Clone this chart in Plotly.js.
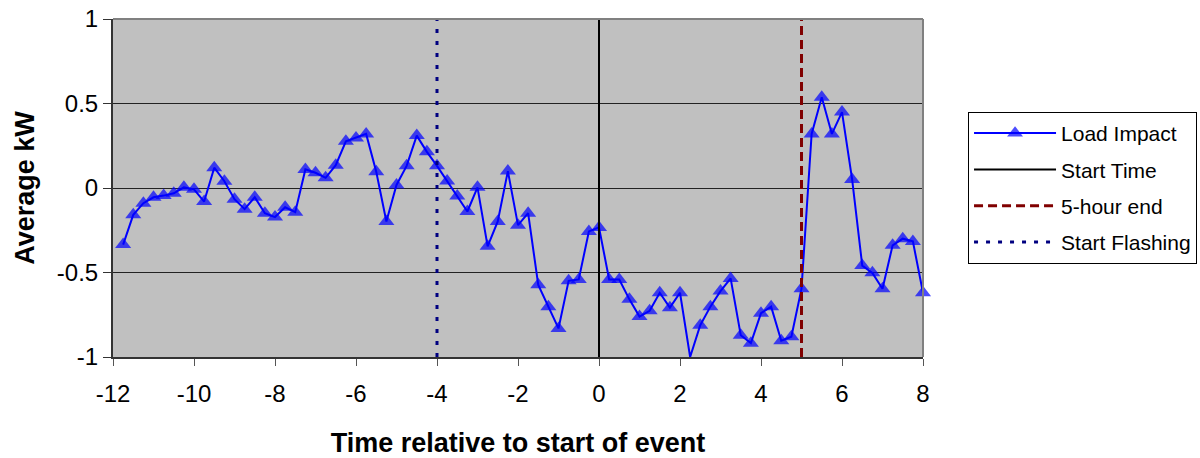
<!DOCTYPE html>
<html>
<head>
<meta charset="utf-8">
<script src="https://cdn.plot.ly/plotly-3.0.1.min.js"></script>
<style>html,body{margin:0;padding:0;background:#fff;}#chart{width:1200px;height:458px;}</style>
</head>
<body>
<div id="chart"></div>
<script>
// Time relative to start of event (hours)
const hours = [
  -11.75, -11.5, -11.25, -11, -10.75, -10.5, -10.25, -10,
  -9.75, -9.5, -9.25, -9, -8.75, -8.5, -8.25, -8,
  -7.75, -7.5, -7.25, -7, -6.75, -6.5, -6.25, -6,
  -5.75, -5.5, -5.25, -5, -4.75, -4.5, -4.25, -4,
  -3.75, -3.5, -3.25, -3, -2.75, -2.5, -2.25, -2,
  -1.75, -1.5, -1.25, -1, -0.75, -0.5, -0.25, 0,
  0.25, 0.5, 0.75, 1, 1.25, 1.5, 1.75, 2,
  2.25, 2.5, 2.75, 3, 3.25, 3.5, 3.75, 4,
  4.25, 4.5, 4.75, 5, 5.25, 5.5, 5.75, 6,
  6.25, 6.5, 6.75, 7, 7.25, 7.5, 7.75, 8
];
// Load Impact, average kW
const loadImpact = [
  -0.335, -0.159, -0.090, -0.055, -0.045, -0.031, 0.004, -0.008,
  -0.080, 0.120, 0.040, -0.066, -0.125, -0.055, -0.149, -0.172,
  -0.114, -0.143, 0.110, 0.090, 0.060, 0.135, 0.276, 0.296,
  0.320, 0.096, -0.198, 0.018, 0.131, 0.310, 0.214, 0.131,
  0.041, -0.047, -0.139, 0.004, -0.345, -0.198, 0.100, -0.220,
  -0.149, -0.573, -0.702, -0.831, -0.549, -0.541, -0.257, -0.233,
  -0.541, -0.541, -0.659, -0.761, -0.727, -0.620, -0.708, -0.620,
  -1.000, -0.812, -0.702, -0.610, -0.535, -0.871, -0.918, -0.741,
  -0.702, -0.904, -0.880, -0.596, 0.320, 0.537, 0.320, 0.449,
  0.051, -0.459, -0.502, -0.596, -0.339, -0.300, -0.316, -0.620
];
// Reference event times (hours)
const startTime = 0;
const fiveHourEnd = 5;
const startFlashing = -4;
const yRange = [-1, 1];
const xTicks = [-12, -10, -8, -6, -4, -2, 0, 2, 4, 6, 8];
const yTicks = [-1, -0.5, 0, 0.5, 1];

const FONT = 'Liberation Sans, Arial, sans-serif';
const markerSizes = loadImpact.map(v => v <= yRange[0] ? 0 : 14);

const traces = [
  {
    x: hours, y: loadImpact, name: 'Load Impact', type: 'scatter', mode: 'lines+markers',
    line: {color: '#0000ff', width: 2},
    marker: {symbol: 'triangle-up', size: markerSizes, color: '#0000ff', line: {width: 0}},
    cliponaxis: false,
    legendgroup: 'a'
  },
  {
    x: [startTime, startTime], y: yRange, name: 'Start Time', type: 'scatter', mode: 'lines',
    line: {color: '#000000', width: 2}, legendgroup: 'b'
  },
  {
    x: [fiveHourEnd, fiveHourEnd], y: yRange, name: '5-hour end', type: 'scatter', mode: 'lines',
    line: {color: '#800000', width: 3, dash: '9px,5px'}, legendgroup: 'c'
  },
  {
    x: [startFlashing, startFlashing], y: yRange, name: 'Start Flashing', type: 'scatter', mode: 'lines',
    line: {color: '#000080', width: 3, dash: '4px,8px'}, legendgroup: 'd'
  }
];

const layout = {
  width: 1200, height: 458,
  margin: {l: 113, r: 277, t: 19, b: 101, pad: 0, autoexpand: false},
  paper_bgcolor: '#ffffff',
  plot_bgcolor: '#c0c0c0',
  font: {family: FONT, color: '#000000'},
  showlegend: true,
  legend: {
    x: 1.0556, y: 0.725, xanchor: 'left', yanchor: 'top',
    bgcolor: '#ffffff', bordercolor: '#000000', borderwidth: 1,
    font: {family: FONT, size: 21, color: '#000000'},
    itemwidth: 82, tracegroupgap: 6, traceorder: 'grouped'
  },
  xaxis: {
    range: [-12, 8], tickvals: xTicks, ticktext: xTicks.map(String),
    ticks: 'outside', ticklen: 7, tickcolor: '#555', tickwidth: 1,
    ticklabelstandoff: 7,
    showline: true, linecolor: '#333', linewidth: 2,
    showgrid: false, zeroline: false,
    tickfont: {family: FONT, size: 24},
    title: {text: '<b>Time relative to start of event</b>', font: {family: FONT, size: 27}, standoff: 27}
  },
  yaxis: {
    range: yRange, tickvals: yTicks, ticktext: yTicks.map(String),
    ticks: 'outside', ticklen: 8, tickcolor: '#333', tickwidth: 1,
    showline: true, linecolor: '#333', linewidth: 2,
    showgrid: true, gridcolor: '#222', gridwidth: 1, zeroline: false,
    tickfont: {family: FONT, size: 24},
    title: {text: '<b>Average kW</b>', font: {family: FONT, size: 27}, standoff: 14}
  },
  shapes: [
    {type: 'line', xref: 'paper', yref: 'paper', x0: 0, x1: 1, y0: 1, y1: 1, line: {color: '#808080', width: 2}},
    {type: 'line', xref: 'paper', yref: 'paper', x0: 1, x1: 1, y0: 0, y1: 1, line: {color: '#808080', width: 2}}
  ]
};

Plotly.newPlot('chart', traces, layout, {displayModeBar: false, staticPlot: true});
</script>
</body>
</html>
